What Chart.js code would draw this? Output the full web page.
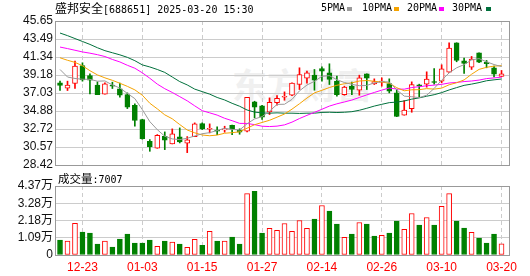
<!DOCTYPE html>
<html>
<head>
<meta charset="utf-8">
<script src="https://cdn.jsdelivr.net/npm/chart.js@4.4.1/dist/chart.umd.min.js"></script>
<style>
  body { margin: 0; background: #fff; width: 530px; height: 276px; overflow: hidden; position: relative; }
  canvas { position: absolute; left: 0; }
  #price { top: 0; }
  #volume { top: 176px; }
  .cn { font-family: "Noto Sans CJK SC", sans-serif; font-size: 12px; }
  .mono { font-family: "DejaVu Sans Mono", monospace; font-size: 10px; }
  .txt { position: absolute; line-height: 14px; color: #000; white-space: nowrap; }
  .sw { position: absolute; width: 5px; height: 4px; top: 7px; }
  #wm { position: absolute; left: 232px; top: 64px; font-family: "Noto Sans CJK SC", sans-serif;
        font-size: 35px; font-weight: bold; color: #f0f0f0; white-space: nowrap; line-height: 40px; }
</style>
</head>
<body>
<div id="wm">东方财富</div>
<canvas id="price" width="530" height="176"></canvas>
<canvas id="volume" width="530" height="100"></canvas>
<div class="txt" style="left:55px; top:1px;"><span class="cn">盛邦安全</span><span class="mono">[688651] 2025-03-20 15:30</span></div>
<div class="txt mono" style="left:321px; top:1px;">5PMA</div>
<div class="sw" style="left:347px; background:#999;"></div>
<div class="txt mono" style="left:362px; top:1px;">10PMA</div>
<div class="sw" style="left:394px; background:#f5a300;"></div>
<div class="txt mono" style="left:407px; top:1px;">20PMA</div>
<div class="sw" style="left:439px; background:#ff00ff;"></div>
<div class="txt mono" style="left:452px; top:1px;">30PMA</div>
<div class="sw" style="left:486px; background:#00703c;"></div>
<div class="txt" style="left:58px; top:171px;"><span class="cn" style="font-size:11.5px">成交量</span><span class="mono">:7007</span></div>
<script>
const dates = ["12-18","12-19","12-20","12-23","12-24","12-25","12-26","12-27","12-30","12-31",
  "01-02","01-03","01-06","01-07","01-08","01-09","01-10","01-13","01-14","01-15",
  "01-16","01-17","01-20","01-21","01-22","01-23","01-24","01-27","02-05","02-06",
  "02-07","02-10","02-11","02-12","02-13","02-14","02-17","02-18","02-19","02-20",
  "02-21","02-24","02-25","02-26","02-27","02-28","03-03","03-04","03-05","03-06",
  "03-07","03-10","03-11","03-12","03-13","03-14","03-17","03-18","03-19","03-20"];

const open = [38.25,37.61,38.17,40.33,39.13,37.97,36.89,37.93,37.53,36.85,
  35.57,33.86,31.26,30.42,31.86,30.94,31.78,31.02,31.82,33.38,
  32.70,32.58,32.62,33.18,32.60,32.46,35.97,35.49,34.77,35.89,
  36.53,36.77,38.05,38.81,39.17,39.97,39.45,38.45,36.85,37.85,
  37.37,39.33,38.13,38.33,38.17,37.05,34.38,35.17,38.01,38.09,
  38.41,38.45,39.53,43.05,40.89,40.13,41.85,40.73,40.05,39.01];
const high = [38.45,38.45,40.85,40.65,39.33,38.37,38.25,38.33,38.21,37.05,
  35.73,33.90,31.46,32.06,32.38,32.74,32.86,31.82,33.46,33.46,
  33.34,32.98,33.06,33.20,32.75,36.53,36.05,35.57,36.45,36.73,
  37.17,38.25,40.05,39.65,39.85,40.17,40.53,39.05,37.85,38.33,
  39.17,39.33,38.73,38.85,38.73,37.45,36.13,38.37,38.09,39.57,
  39.97,40.41,43.05,43.05,41.21,41.41,41.85,40.93,40.25,39.73];
const low = [37.33,37.33,37.57,38.45,36.93,36.85,36.89,37.57,36.53,35.17,
  33.06,31.50,30.06,30.42,30.26,30.94,31.06,29.90,31.82,32.66,
  32.26,32.06,32.34,32.06,32.10,32.38,34.06,33.86,34.46,35.57,
  36.17,36.73,37.45,38.21,37.37,38.45,38.05,36.65,36.77,36.85,
  36.77,37.45,38.05,37.85,37.05,34.20,34.38,34.73,36.57,37.73,
  38.09,38.25,39.50,40.77,39.37,39.85,40.65,40.05,38.97,39.00];
const close = [37.93,37.97,40.25,38.61,38.57,36.85,38.13,37.85,36.77,35.33,
  33.74,31.58,30.62,31.98,31.38,32.14,31.18,31.42,33.34,32.74,
  32.78,32.46,32.74,32.70,32.35,36.53,35.33,34.14,35.93,36.41,
  36.65,38.21,39.25,39.45,38.57,39.65,38.65,36.85,37.73,37.45,
  38.85,38.80,38.40,38.45,37.25,34.22,34.98,38.05,37.89,38.69,
  38.29,39.93,42.41,40.93,40.57,41.09,40.73,40.53,39.30,39.33];
const volume = [9460,8830,19990,14500,13870,6940,8830,5040,10090,13240,
  7570,7570,9460,5470,8830,8200,6940,4830,9880,6100,
  14930,8830,8830,11350,6940,38900,40360,13870,16820,15560,
  19970,14930,21860,16820,22700,31330,27750,19550,11140,13240,
  20600,19550,11980,12400,13870,21440,16190,26280,18920,23750,
  18920,30900,38900,21440,17030,14300,10720,7570,13240,7007];

const ma5 = [39.85,38.95,38.77,38.68,38.67,38.45,38.48,38.00,37.63,36.99,
  36.36,35.05,33.61,32.65,31.86,31.54,31.46,31.62,31.89,32.16,
  32.29,32.55,32.81,32.68,32.61,33.36,33.93,34.21,34.86,35.67,
  35.69,36.27,37.29,37.99,38.43,39.03,39.11,38.63,38.29,38.07,
  37.91,37.94,38.25,38.39,38.35,37.42,36.66,36.59,36.48,36.77,
  37.58,38.57,39.44,40.05,40.43,40.99,41.15,40.77,40.44,40.20];
const ma10 = [41.25,40.95,40.70,40.30,39.70,39.20,38.85,38.55,38.20,37.83,
  37.41,36.77,35.81,35.14,34.42,33.95,33.26,32.61,32.27,32.01,
  31.92,32.00,32.22,32.29,32.39,32.82,33.24,33.51,33.77,34.14,
  34.52,35.10,35.75,36.43,37.05,37.36,37.69,37.96,38.14,38.25,
  38.47,38.53,38.44,38.34,38.21,37.67,37.30,37.42,37.43,37.56,
  37.50,37.62,38.02,38.26,38.60,39.28,39.86,40.11,40.25,40.31];
const ma20 = [42.53,42.35,42.15,41.95,41.80,41.62,41.40,41.05,40.75,40.35,
  40.00,39.45,38.80,38.10,37.55,37.10,36.60,36.10,35.50,34.92,
  34.66,34.39,34.01,33.72,33.40,33.39,33.25,33.06,33.02,33.07,
  33.22,33.55,33.98,34.36,34.72,35.09,35.47,35.74,35.96,36.19,
  36.50,36.81,37.10,37.38,37.63,37.51,37.49,37.69,37.79,37.90,
  37.98,38.07,38.23,38.30,38.40,38.47,38.58,38.76,38.84,38.93];
const ma30 = [44.21,43.90,43.55,43.20,42.85,42.45,42.10,41.85,41.60,41.30,
  40.90,40.40,40.15,39.85,39.50,38.95,38.40,38.00,37.50,37.20,
  36.90,36.50,36.20,35.80,35.45,35.00,34.75,34.65,34.62,34.66,
  34.62,34.62,34.59,34.62,34.62,34.71,34.73,34.70,34.73,34.80,
  34.97,35.21,35.47,35.68,35.88,35.95,36.08,36.30,36.45,36.65,
  36.83,37.08,37.40,37.68,37.95,38.10,38.28,38.50,38.61,38.71];

const priceTicks = [28.42, 30.57, 32.72, 34.88, 37.03, 39.18, 41.34, 43.49, 45.65];
const priceTickLabels = ["28.42","30.57","32.72","34.88","37.03","39.18","41.34","43.49","45.65"];
const volumeTicks = [0, 10925, 21850, 32775, 43700];
const volumeTickLabels = ["0","1.09万","2.18万","3.28万","4.37万"];
const dateTickIndex = [3, 11, 19, 27, 35, 43, 51, 59];

const RED = '#ff0000';
const GREEN = '#008000';
const GRID = '#cccccc';
const xMin = -0.67;
const xMax = 60;

const candleUp = close.map((c, i) => c >= open[i]);
const volumeUp = close.map((c, i) => i === 0 ? c >= open[i] : c >= close[i - 1]);
const pts = (arr) => arr.map((v, i) => ({x: i, y: v}));

const frame = {
    id: 'frame',
    afterDraw(chart) {
        const {ctx, chartArea: a} = chart;
        ctx.save();
        ctx.strokeStyle = '#999';
        ctx.lineWidth = 1;
        ctx.strokeRect(Math.round(a.left) + 0.5, Math.round(a.top) + 0.5,
            Math.round(a.right - a.left), Math.round(a.bottom - a.top));
        ctx.restore();
    }
};

const fixTicks = (values) => (scale) => { scale.ticks = values.map(v => ({value: v})); };
const tickFont = {family: '"Liberation Sans", "Noto Sans CJK SC", sans-serif', size: 12};

function xScale(showLabels) {
    return {
        type: 'linear',
        min: xMin,
        max: xMax,
        offset: false,
        afterBuildTicks: fixTicks(dateTickIndex),
        afterFit: (scale) => { scale.height = showLabels ? 21 : 0; },
        ticks: {
            display: showLabels,
            autoSkip: false,
            maxRotation: 0,
            padding: 5,
            color: RED,
            font: {family: '"Liberation Sans", sans-serif', size: 12},
            callback: (v) => dates[v],
        },
        grid: {color: GRID, drawTicks: false, offset: false},
        border: {display: false, dash: [4, 3]},
    };
}

function yScale(min, max, values, labels) {
    return {
        position: 'left',
        min: min,
        max: max,
        afterBuildTicks: fixTicks(values),
        afterFit: (scale) => { scale.width = 55; },
        ticks: {
            autoSkip: false,
            padding: 2,
            color: '#111',
            font: tickFont,
            callback: (v, i) => labels[i],
        },
        grid: {color: GRID, drawTicks: false},
        border: {display: false},
    };
}

function maLine(data, color) {
    return {
        type: 'line',
        data: pts(data),
        borderColor: color,
        borderWidth: 1,
        pointRadius: 0,
        tension: 0,
        order: 0,
    };
}

new Chart(document.getElementById('price'), {
    type: 'bar',
    data: {
        datasets: [
            {
                data: dates.map((d, i) => ({x: i, y: [low[i], high[i]]})),
                backgroundColor: candleUp.map(u => u ? RED : GREEN),
                barThickness: 1,
                grouped: false,
                order: 3,
            },
            {
                data: dates.map((d, i) => ({x: i, y: [open[i], close[i]]})),
                backgroundColor: candleUp.map(u => u ? '#ffffff' : GREEN),
                borderColor: candleUp.map(u => u ? RED : GREEN),
                borderWidth: 1,
                borderSkipped: false,
                barThickness: 5,
                minBarLength: 1,
                grouped: false,
                order: 2,
            },
            maLine(ma5, '#999999'),
            maLine(ma10, '#f5a300'),
            maLine(ma20, '#ff00ff'),
            maLine(ma30, '#00703c'),
        ]
    },
    options: {
        responsive: false,
        animation: false,
        events: [],
        layout: {padding: {top: 21, right: 21, bottom: 11, left: 0}},
        plugins: {legend: {display: false}, tooltip: {enabled: false}},
        scales: {
            x: xScale(false),
            y: yScale(28.42, 45.65, priceTicks, priceTickLabels),
        }
    },
    plugins: [frame]
});

new Chart(document.getElementById('volume'), {
    type: 'bar',
    data: {
        datasets: [{
            data: pts(volume),
            backgroundColor: volumeUp.map(u => u ? '#ffffff' : GREEN),
            borderColor: volumeUp.map(u => u ? RED : GREEN),
            borderWidth: 1,
            borderSkipped: false,
            barThickness: 5,
            grouped: false,
        }]
    },
    options: {
        responsive: false,
        animation: false,
        events: [],
        layout: {padding: {top: 10, right: 21, bottom: 0, left: 0}},
        plugins: {legend: {display: false}, tooltip: {enabled: false}},
        scales: {
            x: xScale(true),
            y: yScale(0, 43700, volumeTicks, volumeTickLabels),
        }
    },
    plugins: [frame]
});
</script>
</body>
</html>
